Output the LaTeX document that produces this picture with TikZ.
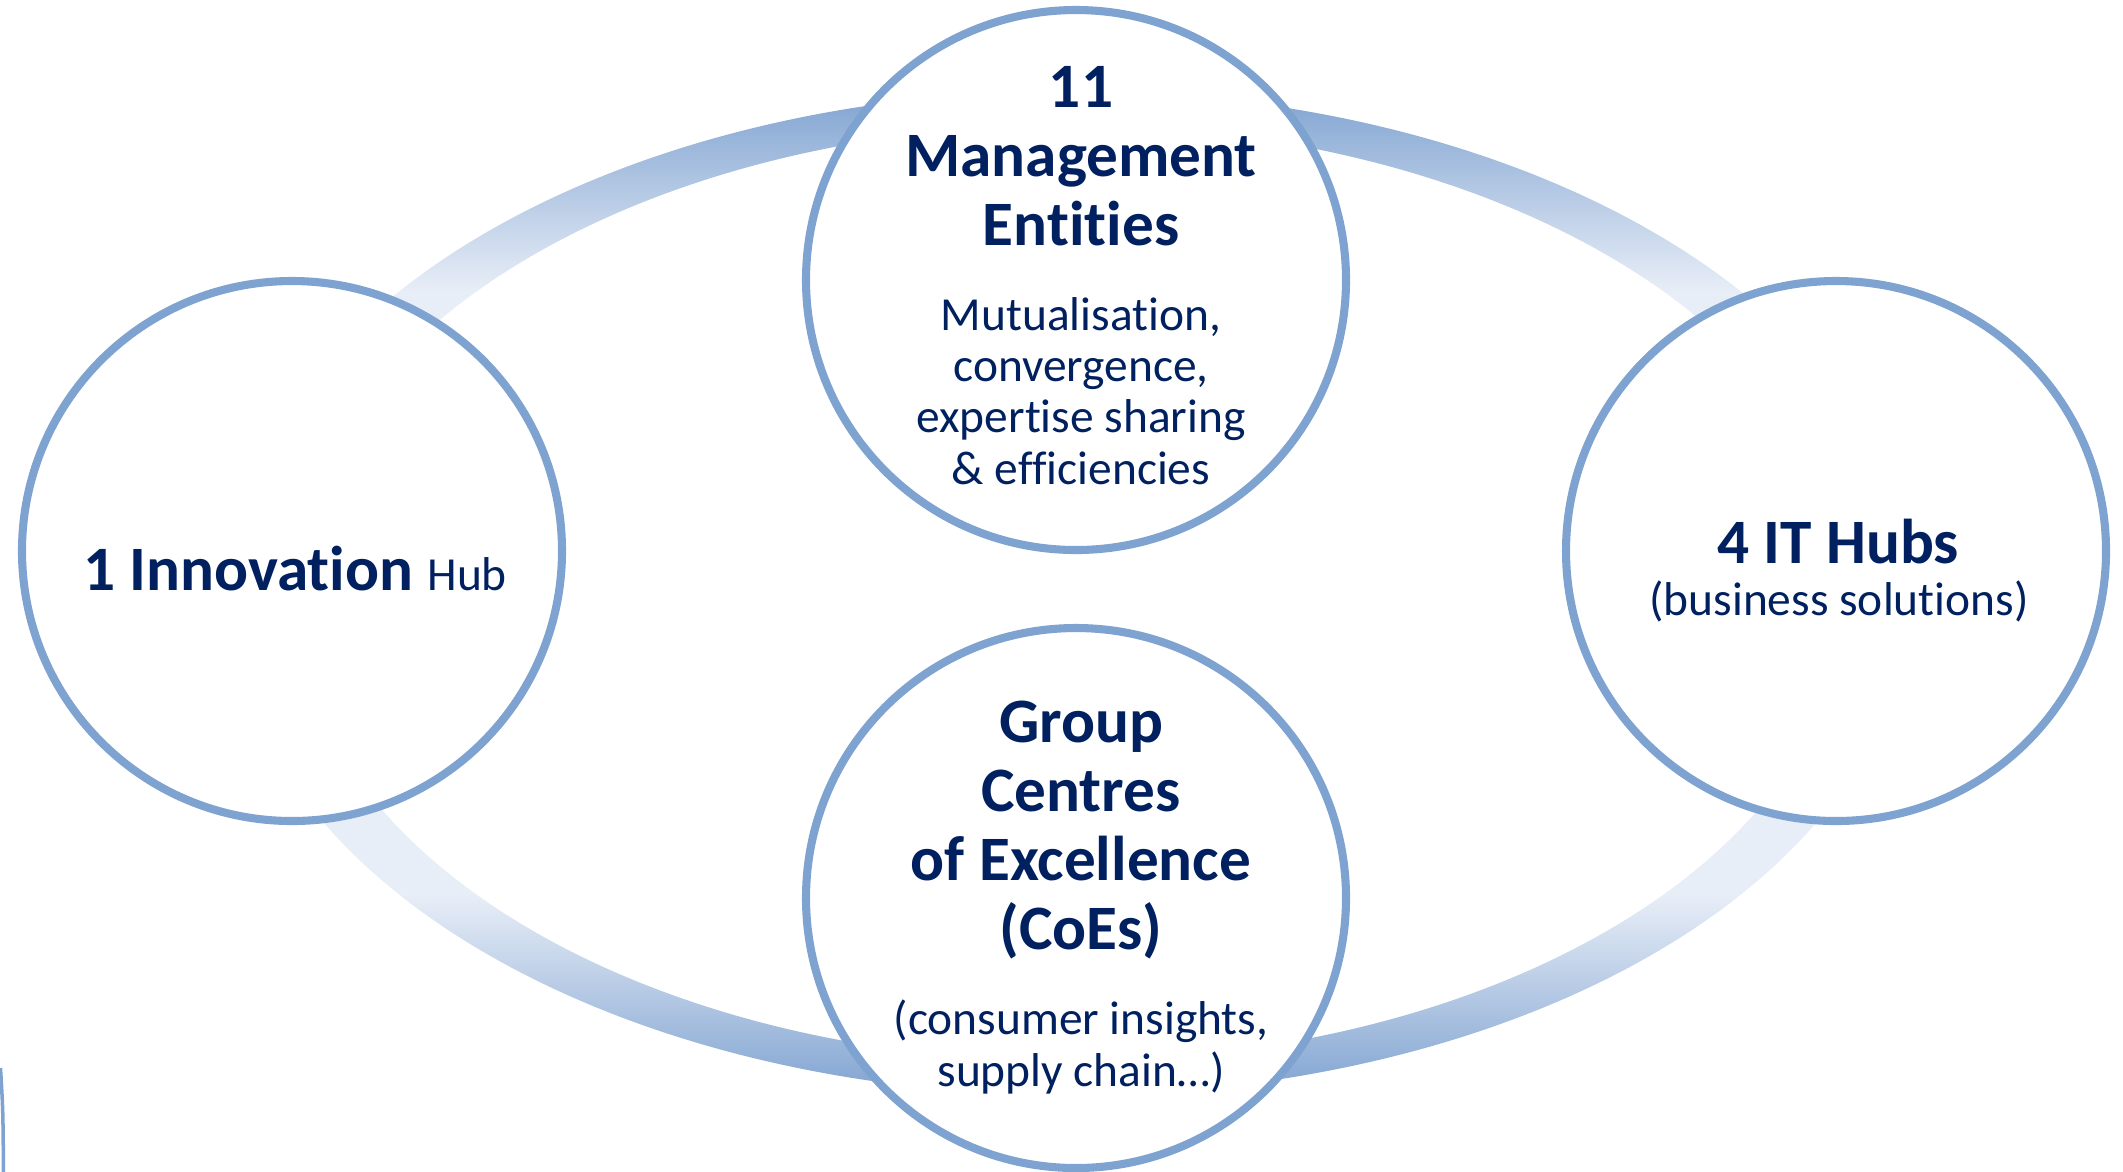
\documentclass[tikz,border=0pt]{standalone}
\usepackage{fontspec}
\setmainfont{Carlito}[Ligatures=NoCommon]

\definecolor{navy}{RGB}{0,32,96}
\definecolor{hubline}{RGB}{126,163,208}
\definecolor{ringdark}{RGB}{128,163,209}
\definecolor{ringlight}{RGB}{232,238,247}

% band shading: dark at top and bottom, pale in between
\pgfdeclareverticalshading{ringshade}{100bp}{color(0bp)=(ringdark); color(25bp)=(ringdark); color(35bp)=(ringlight); color(65bp)=(ringlight); color(75bp)=(ringdark); color(100bp)=(ringdark)}

\begin{document}
\begin{tikzpicture}[
  hub/.style={circle, draw=hubline, line width=2.3pt, fill=white, minimum size=5.4cm, inner sep=0pt},
  head/.style={text=navy, align=center, font=\fontsize{18}{19.6}\selectfont\bfseries},
  sub/.style={text=navy, align=center, font=\fontsize{13.5}{14.6}\selectfont}
]
\useasboundingbox (0,0) rectangle (21.23,-11.71);

\coordinate (C) at (10.70,-5.93);
\coordinate (L) at (2.92,-5.51);
\coordinate (T) at (10.76,-2.80);
\coordinate (R) at (18.36,-5.51);
\coordinate (B) at (10.76,-8.98);

% the ring behind the circles
\shade[even odd rule, shading=ringshade]
  (C) ellipse [x radius=8.39, y radius=5.02]
  (C) ellipse [x radius=7.76, y radius=4.68];

\node[hub] (inno) at (L) {};
\node[hub] (mgmt) at (T) {};
\node[hub] (it)   at (R) {};
\node[hub] (coe)  at (B) {};

\node[head] (innoText) at (2.95,-5.69) {1 Innovation {\mdseries\fontsize{13.5}{14.6}\selectfont Hub}};

\node[head] (mgmtHead) at (10.81,-1.56) {11\\Management\\Entities};
\node[sub]  (mgmtSub)  at (10.81,-3.91) {Mutualisation,\\convergence,\\expertise sharing\\\& efficiencies};

\node[head] (itHead) at (18.38,-5.42) {4 IT Hubs};
\node[sub]  (itSub)  at (18.39,-6.01) {(business solutions)};

\node[head] (coeHead) at (10.81,-8.30) {Group\\Centres\\of Excellence\\(CoEs)};
\node[sub]  (coeSub)  at (10.81,-10.47) {(consumer insights,\\supply chain…)};

% edge of a cut-off shape, lower left
\draw[hubline, line width=1pt] (0.005,-10.68) .. controls (0.03,-11.1) .. (0.035,-11.75);

\end{tikzpicture}
\end{document}
